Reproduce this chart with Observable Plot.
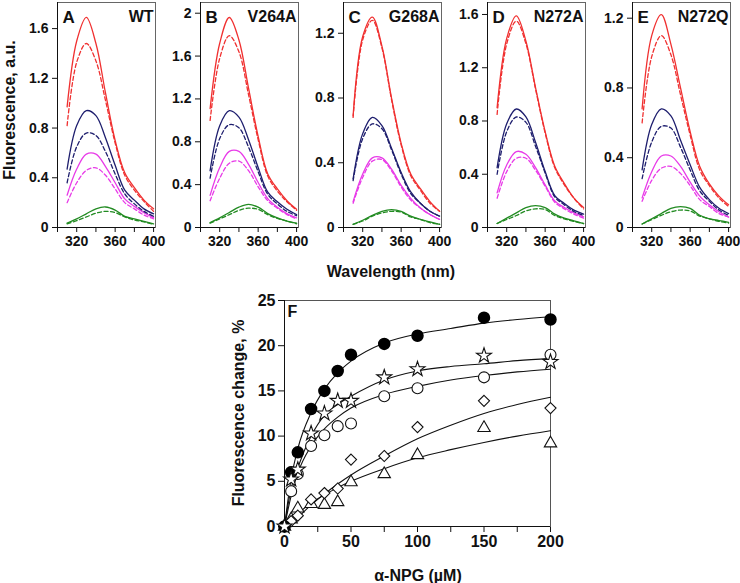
<!DOCTYPE html>
<html><head><meta charset="utf-8">
<script src="https://cdn.jsdelivr.net/npm/d3@7"></script>
<script src="https://cdn.jsdelivr.net/npm/@observablehq/plot@0.6"></script>
<style>
body{margin:0;background:#fff;}
#root{position:relative;width:740px;height:583px;overflow:hidden;font-family:"Liberation Sans",Arial,sans-serif;color:#111;}
#root svg{position:absolute;}
.lbl{position:absolute;font-size:16px;font-weight:bold;white-space:nowrap;transform:translate(-50%,-50%);}
.rot{transform:translate(-50%,-50%) rotate(-90deg);}
</style></head><body><div id="root"></div>
<script>
// ---------- Spectra data (wavelength in nm, fluorescence a.u.) ----------
const wavelengths = [310,320,330,340,350,360,370,380,390,400];
// order of rows in each panel: red, navy, magenta, green
const seriesColors = ["#f03030","#1e1e6e","#e83ae8","#228b22"];

const WT_solid = [
  [0.97,1.50,1.69,1.48,1.08,0.70,0.44,0.32,0.22,0.15],
  [0.47,0.82,0.94,0.90,0.72,0.50,0.30,0.22,0.15,0.11],
  [0.26,0.47,0.59,0.59,0.49,0.36,0.23,0.17,0.12,0.08],
  [0.035,0.07,0.11,0.15,0.165,0.14,0.09,0.07,0.05,0.03]];
const WT_dashed = [
  [0.82,1.33,1.48,1.34,1.02,0.68,0.42,0.30,0.21,0.13],
  [0.36,0.65,0.76,0.74,0.61,0.43,0.27,0.19,0.13,0.09],
  [0.20,0.36,0.46,0.48,0.42,0.31,0.20,0.15,0.10,0.07],
  [0.03,0.055,0.085,0.115,0.13,0.12,0.085,0.06,0.045,0.025]];

const V264A_solid = [
  [1.11,1.72,1.96,1.75,1.30,0.85,0.50,0.36,0.25,0.17],
  [0.53,0.95,1.09,1.03,0.82,0.56,0.33,0.24,0.17,0.12],
  [0.30,0.56,0.71,0.71,0.59,0.42,0.27,0.19,0.13,0.09],
  [0.045,0.09,0.14,0.19,0.215,0.19,0.13,0.09,0.06,0.04]];
const V264A_dashed = [
  [1.00,1.58,1.79,1.64,1.24,0.82,0.48,0.34,0.24,0.16],
  [0.46,0.83,0.96,0.93,0.75,0.52,0.31,0.22,0.15,0.11],
  [0.25,0.46,0.60,0.62,0.53,0.38,0.25,0.18,0.12,0.08],
  [0.04,0.08,0.12,0.16,0.18,0.17,0.12,0.085,0.06,0.035]];

const G268A_solid = [
  [0.69,1.18,1.30,1.12,0.80,0.52,0.33,0.24,0.16,0.10],
  [0.30,0.58,0.68,0.63,0.49,0.34,0.22,0.15,0.10,0.07],
  [0.16,0.33,0.43,0.43,0.36,0.26,0.18,0.12,0.08,0.05],
  [0.02,0.045,0.075,0.10,0.11,0.10,0.07,0.05,0.035,0.02]];
const G268A_dashed = [
  [0.68,1.16,1.28,1.11,0.79,0.51,0.32,0.23,0.15,0.10],
  [0.29,0.55,0.64,0.61,0.48,0.33,0.21,0.15,0.10,0.07],
  [0.15,0.31,0.41,0.42,0.35,0.25,0.17,0.12,0.08,0.05],
  [0.02,0.04,0.07,0.09,0.10,0.095,0.065,0.05,0.03,0.02]];

const N272A_solid = [
  [0.90,1.42,1.59,1.40,1.05,0.72,0.46,0.33,0.22,0.15],
  [0.45,0.78,0.89,0.83,0.64,0.42,0.24,0.18,0.13,0.10],
  [0.26,0.47,0.57,0.55,0.45,0.32,0.20,0.15,0.11,0.08],
  [0.03,0.07,0.11,0.15,0.165,0.15,0.10,0.07,0.05,0.03]];
const N272A_dashed = [
  [0.85,1.38,1.55,1.38,1.04,0.71,0.45,0.32,0.22,0.14],
  [0.40,0.72,0.83,0.79,0.61,0.41,0.23,0.17,0.12,0.09],
  [0.22,0.42,0.52,0.52,0.43,0.31,0.19,0.14,0.10,0.07],
  [0.03,0.06,0.09,0.125,0.14,0.135,0.09,0.065,0.045,0.03]];

const N272Q_solid = [
  [0.68,1.10,1.22,1.05,0.80,0.55,0.35,0.25,0.18,0.13],
  [0.33,0.59,0.68,0.64,0.50,0.36,0.23,0.16,0.11,0.08],
  [0.17,0.32,0.41,0.41,0.35,0.26,0.18,0.13,0.09,0.06],
  [0.02,0.05,0.08,0.11,0.12,0.11,0.07,0.05,0.04,0.03]];
const N272Q_dashed = [
  [0.60,0.98,1.10,0.99,0.76,0.53,0.33,0.24,0.17,0.12],
  [0.28,0.49,0.58,0.57,0.46,0.33,0.21,0.15,0.10,0.07],
  [0.15,0.27,0.34,0.35,0.31,0.24,0.16,0.12,0.08,0.06],
  [0.02,0.045,0.07,0.09,0.10,0.095,0.065,0.05,0.035,0.025]];

const panelLetters = ["A","B","C","D","E"];
const panelNames = ["WT","V264A","G268A","N272A","N272Q"];
const panelYMax = [1.81,2.10,1.39,1.69,1.29];
const panelYTicks = [
  [0,0.4,0.8,1.2,1.6],
  [0,0.4,0.8,1.2,1.6,2],
  [0,0.4,0.8,1.2],
  [0,0.4,0.8,1.2,1.6],
  [0,0.4,0.8,1.2]];
const panelSolid = [WT_solid,V264A_solid,G268A_solid,N272A_solid,N272Q_solid];
const panelDashed = [WT_dashed,V264A_dashed,G268A_dashed,N272A_dashed,N272Q_dashed];
const waveTicks = [300,320,340,360,380,400];

// ---------- Panel F data ----------
const concF = [0,5,10,20,30,40,50,75,100,150,200];
const filledCircles = [0,6.0,8.2,13.0,15.0,17.2,19.0,20.2,21.1,23.1,22.9];
const stars = [0,5.2,6.3,10.3,12.5,13.9,13.9,16.5,17.4,18.9,18.2];
const openCircles = [0,3.9,5.8,8.9,10.1,11.1,11.4,14.4,15.3,16.5,19.0];
const diamonds = [0,0.6,1.2,3.0,3.7,4.2,7.4,7.8,11.0,13.9,13.1];
const triangles = [0,0.8,2.0,2.5,2.4,2.7,4.9,5.8,7.9,10.9,9.2];

const fitConc = [0,5,10,20,30,40,50,75,100,125,150,175,200];
const fitFilled = [0,5.3,8.6,12.6,15.2,17.0,18.3,20.3,21.3,21.9,22.5,22.9,23.2];
const fitStars = [0,4.2,6.5,10.0,12.3,13.5,14.4,16.2,17.2,17.7,18.0,18.35,18.6];
const fitOpen = [0,3.4,5.9,8.9,10.8,12.1,13.1,14.6,15.5,16.2,16.7,17.1,17.4];
const fitDiamonds = [0,0.4,1.0,2.4,3.6,4.7,5.7,7.8,9.7,11.2,12.5,13.5,14.3];
const fitTriangles = [0,0.7,1.4,2.6,3.5,4.3,5.0,6.4,7.6,8.5,9.3,10.0,10.6];
const fTicksX = [0,25,50,75,100,125,150,175,200];
const fTicksY = [0,5,10,15,20,25];

// ---------- Drawing ----------
const root = document.getElementById("root");
const FONT = "'Liberation Sans', Arial, sans-serif";
const axisLefts = [57,200,343,487,632];
const PW = 98, PT = 2, PH = 225, PB = 33;

function rowsOf(sets, tag) {
  const out = [];
  sets.forEach((vals, i) => vals.forEach((v, j) =>
    out.push({w: wavelengths[j], v, c: seriesColors[i], k: tag + i})));
  return out;
}

panelLetters.forEach((letter, p) => {
  const ml = p === 0 ? 57 : 40;
  const mr = 4;
  const svg = Plot.plot({
    width: ml + PW + mr, height: PT + PH + PB,
    marginLeft: ml, marginRight: mr, marginTop: PT, marginBottom: PB,
    x: {domain: [300, 402], ticks: waveTicks, tickFormat: d => d % 40 === 0 ? String(d) : "", tickSize: 5, label: null},
    y: {domain: [0, panelYMax[p]], ticks: panelYTicks[p], tickFormat: d => String(d), tickSize: 5, label: null},
    color: {type: "identity"},
    style: {background: "transparent", fontFamily: FONT, fontSize: "14px", fontWeight: "bold", color: "#111", overflow: "visible"},
    marks: [
      Plot.frame({stroke: "#666", strokeWidth: 1}),
      Plot.ruleX([300], {stroke: "#111"}),
      Plot.ruleY([0], {stroke: "#111"}),
      Plot.line(rowsOf(panelSolid[p], "s"), {x: "w", y: "v", z: "k", stroke: "c", strokeWidth: 1.3, curve: "catmull-rom"}),
      Plot.line(rowsOf(panelDashed[p], "d"), {x: "w", y: "v", z: "k", stroke: "c", strokeWidth: 1.3, strokeDasharray: "4,2.5", curve: "catmull-rom"}),
      Plot.text([letter], {text: d => d, frameAnchor: "top-left", textAnchor: "start", lineAnchor: "top", dx: 5, dy: 8, fontSize: 17, fontWeight: "bold", fill: "#111"}),
      Plot.text([panelNames[p]], {text: d => d, frameAnchor: "top-right", textAnchor: "end", lineAnchor: "top", dx: -2, dy: 8, fontSize: 16, fontWeight: "bold", fill: "#111"})
    ]
  });
  svg.style.left = (axisLefts[p] - ml) + "px";
  svg.style.top = "0px";
  root.appendChild(svg);
});

// Panel F
const mk = (xs, ys) => xs.map((x, i) => ({x, y: ys[i]}));
const fitSets = [fitFilled, fitStars, fitOpen, fitDiamonds, fitTriangles];
const fitRows = [];
fitSets.forEach((ys, s) => ys.forEach((y, i) => fitRows.push({x: fitConc[i], y, k: s})));

const FL = 44, FR = 24, FT = 10, FB = 40;
const svgF = Plot.plot({
  width: FL + 266 + FR, height: FT + 226 + FB,
  marginLeft: FL, marginRight: FR, marginTop: FT, marginBottom: FB,
  x: {domain: [0, 200], ticks: fTicksX, tickFormat: d => d % 50 === 0 ? String(d) : "", tickSize: 6, label: null},
  y: {domain: [0, 25], ticks: fTicksY, tickFormat: d => String(d), tickSize: 6, label: null},
  style: {background: "transparent", fontFamily: FONT, fontSize: "16px", fontWeight: "bold", color: "#111", overflow: "visible"},
  marks: [
    Plot.frame({stroke: "#555"}),
    Plot.ruleX([0], {stroke: "#111"}),
    Plot.ruleY([0], {stroke: "#111"}),
    Plot.line(fitRows, {x: "x", y: "y", z: "k", stroke: "#111", strokeWidth: 1.1, curve: "monotone-x"}),
    Plot.dot(mk(concF, triangles), {x: "x", y: "y", symbol: "triangle", r: 4.6, fill: "white", stroke: "#111", strokeWidth: 1.1}),
    Plot.dot(mk(concF, diamonds), {x: "x", y: "y", symbol: "diamond2", r: 5.0, fill: "white", stroke: "#111", strokeWidth: 1.1}),
    Plot.dot(mk(concF, openCircles), {x: "x", y: "y", symbol: "circle", r: 5.5, fill: "white", stroke: "#111", strokeWidth: 1.1}),
    Plot.dot(mk(concF, filledCircles), {x: "x", y: "y", symbol: "circle", r: 5.5, fill: "#000", stroke: "#000"}),
    Plot.dot(mk(concF, stars), {x: "x", y: "y", symbol: "star", r: 4.7, fill: "white", stroke: "#111", strokeWidth: 1.1}),
    Plot.text(["F"], {text: d => d, frameAnchor: "top-left", textAnchor: "start", lineAnchor: "top", dx: 3, dy: 5, fontSize: 16, fontWeight: "bold", fill: "#111"})
  ]
});
svgF.style.left = (284 - FL) + "px";
svgF.style.top = (300 - FT) + "px";
root.appendChild(svgF);

// Axis titles
function label(text, x, y, rot) {
  const d = document.createElement("div");
  d.className = "lbl" + (rot ? " rot" : "");
  d.textContent = text;
  d.style.left = x + "px";
  d.style.top = y + "px";
  root.appendChild(d);
}
label("Fluorescence, a.u.", 10, 110, true);
label("Wavelength (nm)", 391, 272, false);
label("Fluorescence change, %", 239, 413, true);
label("α-NPG (µM)", 418, 576, false);
</script></body></html>
